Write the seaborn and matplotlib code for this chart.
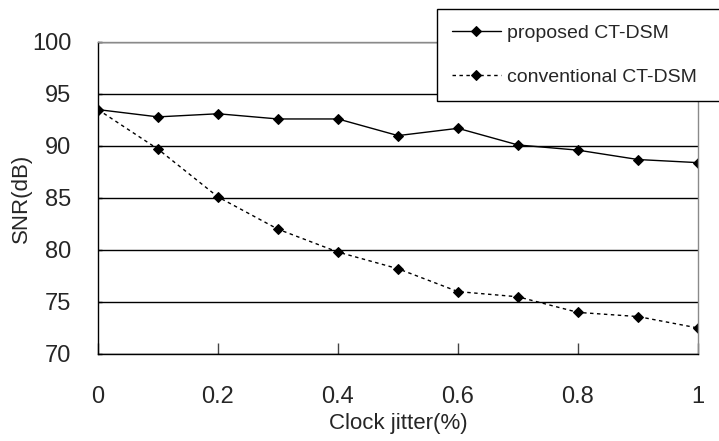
import pandas as pd
import matplotlib
matplotlib.use("Agg")
import matplotlib.pyplot as plt
import seaborn as sns

# ===============================
# data
# ===============================
jitter = [0.0, 0.1, 0.2, 0.3, 0.4, 0.5, 0.6, 0.7, 0.8, 0.9, 1.0]
proposed = [93.5, 92.8, 93.1, 92.6, 92.6, 91.0, 91.7, 90.1, 89.6, 88.7, 88.4]
conventional = [93.5, 89.7, 85.1, 82.0, 79.8, 78.2, 76.0, 75.5, 74.0, 73.6, 72.5]
series_names = ["proposed CT-DSM", "conventional CT-DSM"]

x_ticks = [0.0, 0.2, 0.4, 0.6, 0.8, 1.0]
x_tick_labels = ["0", "0.2", "0.4", "0.6", "0.8", "1"]
y_ticks = [70, 75, 80, 85, 90, 95, 100]

df = pd.DataFrame({
    "jitter": jitter + jitter,
    "snr": proposed + conventional,
    "method": [series_names[0]] * len(jitter) + [series_names[1]] * len(jitter),
})

# ===============================
# style
# ===============================
sns.set_style("white")
plt.rcParams["font.family"] = ["Liberation Sans", "DejaVu Sans"]

W, H = 719, 441
fig = plt.figure(figsize=(W / 100, H / 100), dpi=100)
ax = fig.add_axes([98 / W, 1 - 354 / H, 600 / W, 312 / H])

sns.lineplot(
    data=df, x="jitter", y="snr",
    hue="method", style="method",
    palette=["black", "black"],
    dashes=["", (2.5, 2.5)],
    markers=["D", "D"],
    markersize=5.5, markeredgecolor="black",
    linewidth=1, ax=ax,
)

# ===============================
# axes
# ===============================
ax.set_xlim(0, 1)
ax.set_ylim(70, 100)
ax.set_xticks(x_ticks)
ax.set_xticklabels(x_tick_labels)
ax.set_yticks(y_ticks)
ax.tick_params(axis="x", direction="in", length=8, width=1, pad=23,
               labelsize=17, color="#444444", bottom=True)
ax.tick_params(axis="y", direction="in", length=3, width=1, pad=19,
               labelsize=17, color="black", left=True)
ax.yaxis.grid(True, color="black", linewidth=1)
ax.set_axisbelow(True)

ax.spines["left"].set_color("black")
ax.spines["bottom"].set_color("black")
ax.spines["top"].set_color("#8a8a8a")
ax.spines["right"].set_color("#8a8a8a")
for s in ax.spines.values():
    s.set_linewidth(1)
    s.set_zorder(5)

ax.set_xlabel("Clock jitter(%)", fontsize=16, labelpad=4)
ax.set_ylabel("SNR(dB)", fontsize=16, labelpad=0)

# ===============================
# legend (box runs off the right edge)
# ===============================
handles, labels = ax.get_legend_handles_labels()
ax.get_legend().remove()
leg = fig.legend(
    handles, labels,
    loc="upper left",
    bbox_to_anchor=(437 / W, 0.5, 0.5, 1 - 9 / H - 0.5),
    bbox_transform=fig.transFigure,
    mode="expand", borderaxespad=0,
    fontsize=14, frameon=True, fancybox=False, framealpha=1,
    handlelength=2.5, handletextpad=0.3,
    borderpad=0.78, labelspacing=1.37,
)
leg.get_frame().set_edgecolor("black")
leg.get_frame().set_linewidth(1)

fig.savefig("out.png", dpi=100)
